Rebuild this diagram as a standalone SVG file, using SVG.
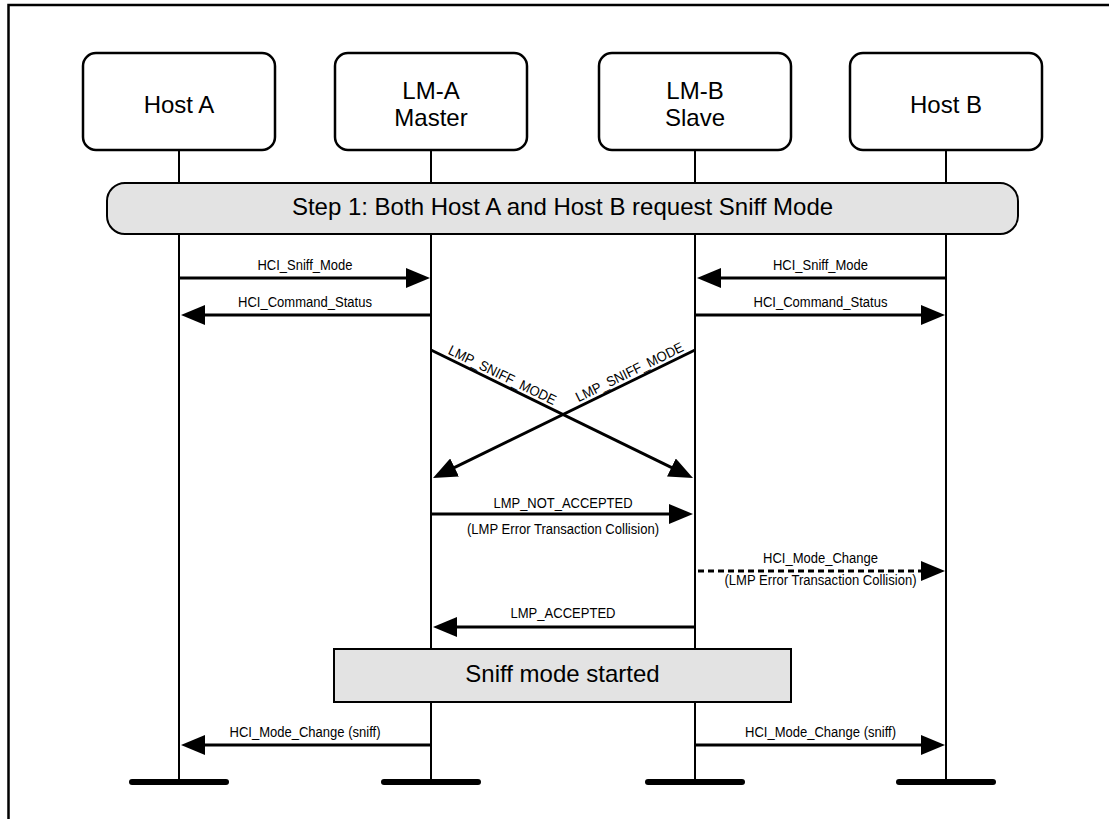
<svg xmlns="http://www.w3.org/2000/svg" width="1109" height="819" viewBox="0 0 1109 819">
<defs>
<style>
.frame{fill:none;stroke:#000;stroke-width:2.5}
.node{fill:#fff;stroke:#000;stroke-width:2.5}
.bar{fill:#e3e3e3;stroke:#000;stroke-width:2}
.life{fill:none;stroke:#000;stroke-width:2}
.foot{stroke:#000;stroke-width:6;stroke-linecap:round}
.msg{fill:none;stroke:#000;stroke-width:3;marker-end:url(#ah)}
.dash{stroke-dasharray:6 4}
.big{font-family:"Liberation Sans",Arial,sans-serif;font-size:24px;text-anchor:middle;fill:#000}
.lbl{font-family:"Liberation Sans",Arial,sans-serif;font-size:14px;text-anchor:middle;fill:#000}
</style>
<marker id="ah" viewBox="0 0 24 20" refX="14" refY="10" markerWidth="24" markerHeight="20" markerUnits="userSpaceOnUse" orient="auto">
<path d="M0,0 L24,10 L0,20 Z" fill="#000"/>
</marker>
</defs>
<rect width="1109" height="819" fill="#fff"/>
<path class="frame" d="M8.5,819 V5 H1109"/>

<g id="lifelines">
<line class="life" x1="179" y1="150" x2="179" y2="782"/>
<line class="life" x1="431" y1="150" x2="431" y2="782"/>
<line class="life" x1="695" y1="150" x2="695" y2="782"/>
<line class="life" x1="946" y1="150" x2="946" y2="782"/>
<line class="foot" x1="132" y1="782" x2="226" y2="782"/>
<line class="foot" x1="384" y1="782" x2="478" y2="782"/>
<line class="foot" x1="648" y1="782" x2="742" y2="782"/>
<line class="foot" x1="899" y1="782" x2="993" y2="782"/>
</g>

<g id="host-a">
<rect class="node" x="83" y="53" width="192" height="97" rx="13"/>
<text class="big" x="179" y="113">Host A</text>
</g>
<g id="lm-a">
<rect class="node" x="335" y="53" width="192" height="97" rx="13"/>
<text class="big" x="431" y="99">LM-A</text>
<text class="big" x="431" y="126">Master</text>
</g>
<g id="lm-b">
<rect class="node" x="599" y="53" width="192" height="97" rx="13"/>
<text class="big" x="695" y="99">LM-B</text>
<text class="big" x="695" y="126">Slave</text>
</g>
<g id="host-b">
<rect class="node" x="850" y="53" width="192" height="97" rx="13"/>
<text class="big" x="946" y="113">Host B</text>
</g>

<g id="step1">
<rect class="bar" x="107" y="183" width="911" height="51" rx="18"/>
<text class="big" x="562.5" y="215">Step 1: Both Host A and Host B request Sniff Mode</text>
</g>

<g id="sniff-started">
<rect class="bar" x="334" y="649" width="457" height="53"/>
<text class="big" x="562.5" y="682">Sniff mode started</text>
</g>

<g id="connectors">
<path class="msg" d="M179,278 H420"/>
<text class="lbl" x="305" y="270" textLength="95" lengthAdjust="spacingAndGlyphs">HCI_Sniff_Mode</text>
<path class="msg" d="M431,315 H191"/>
<text class="lbl" x="305" y="307" textLength="134" lengthAdjust="spacingAndGlyphs">HCI_Command_Status</text>
<path class="msg" d="M946,278 H707"/>
<text class="lbl" x="820.5" y="270" textLength="95" lengthAdjust="spacingAndGlyphs">HCI_Sniff_Mode</text>
<path class="msg" d="M695,315 H935"/>
<text class="lbl" x="820.5" y="307" textLength="134" lengthAdjust="spacingAndGlyphs">HCI_Command_Status</text>

<path class="msg" d="M431,350 L684,473.6"/>
<text class="lbl" transform="translate(498.6,383) rotate(26)" x="0" y="-4" textLength="118" lengthAdjust="spacingAndGlyphs">LMP_SNIFF_MODE</text>
<path class="msg" d="M695,350 L442,473.6"/>
<text class="lbl" transform="translate(633.4,380) rotate(-26)" x="0" y="-4" textLength="118" lengthAdjust="spacingAndGlyphs">LMP_SNIFF_MODE</text>

<path class="msg" d="M431,514 H683"/>
<text class="lbl" x="563" y="508" textLength="139" lengthAdjust="spacingAndGlyphs">LMP_NOT_ACCEPTED</text>
<text class="lbl" x="563" y="534" textLength="192" lengthAdjust="spacingAndGlyphs">(LMP Error Transaction Collision)</text>

<path class="msg dash" d="M698,571 H935"/>
<text class="lbl" x="820.5" y="563" textLength="115" lengthAdjust="spacingAndGlyphs">HCI_Mode_Change</text>
<text class="lbl" x="820.5" y="585" textLength="192" lengthAdjust="spacingAndGlyphs">(LMP Error Transaction Collision)</text>

<path class="msg" d="M695,627 H443"/>
<text class="lbl" x="563" y="618" textLength="105" lengthAdjust="spacingAndGlyphs">LMP_ACCEPTED</text>

<path class="msg" d="M431,745 H191"/>
<text class="lbl" x="305" y="737" textLength="151" lengthAdjust="spacingAndGlyphs">HCI_Mode_Change (sniff)</text>
<path class="msg" d="M695,745 H935"/>
<text class="lbl" x="820.5" y="737" textLength="151" lengthAdjust="spacingAndGlyphs">HCI_Mode_Change (sniff)</text>
</g>
</svg>
